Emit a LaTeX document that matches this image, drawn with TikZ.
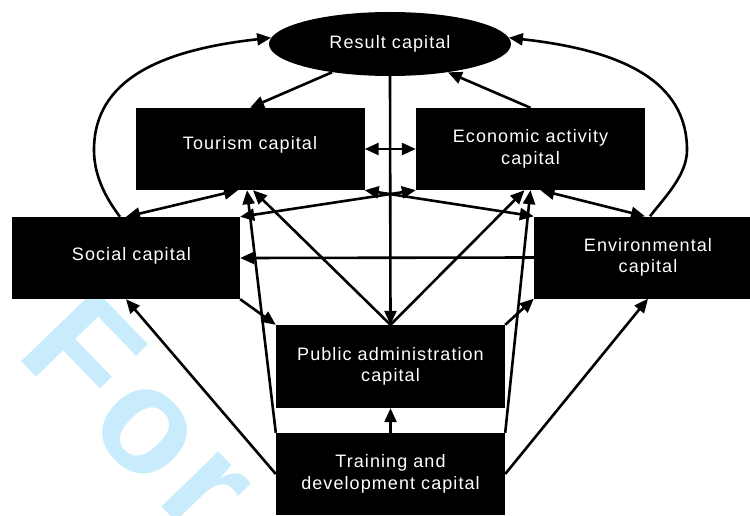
\documentclass[tikz,border=0pt]{standalone}
\usepackage{fontspec}
\setmainfont{Liberation Sans}[LetterSpace=6]
\usetikzlibrary{arrows.meta,shapes.geometric,calc}
\definecolor{wmblue}{RGB}{200,236,252}
\begin{document}
\begin{tikzpicture}[x=1pt,y=-1pt,
  lbl/.style={text=white, font=\fontsize{18}{21.5}\selectfont, align=center},
  box/.style={lbl, rectangle, fill=black, minimum width=229pt, minimum height=82pt, inner sep=0pt},
  tipA/.tip={Triangle[length=14pt,width=12pt]},
  arr/.style={line width=2.6pt, -tipA},
  barr/.style={line width=2.6pt, tipA-tipA}]
\useasboundingbox (0,0) rectangle (750,516);
\node[text=wmblue, font=\fontsize{150}{150}\bfseries, rotate=-46, anchor=base west] (wm) at (12,352) {For};
\node[lbl, ellipse, fill=black, minimum width=242pt, minimum height=64pt, inner sep=0pt] (res) at (390,44) {Result capital};
\node[box, text height=13pt, text depth=12pt] (tour) at (250,149) {Tourism capital};
\node[box] (econ) at (530.5,149) {Economic activity\\capital};
\node[box, minimum width=228pt, text height=13pt, text depth=9pt] (soc) at (126,258) {\hspace*{11pt}Social capital};
\node[box, minimum width=228pt] (env) at (648,257.5) {Environmental\\capital};
\node[box, minimum height=83pt] (pub) at (390.5,366.5) {Public administration\\capital};
\node[box] (train) at (390.5,474) {Training and\\development capital};
\draw[arr] (res.206) -- (tour.north);
\draw[arr] (econ.north) -- (res.334);
\draw[arr] (res.south) -- (pub.north);
\draw[barr] (tour.east) -- (econ.west);
\draw[arr] ([xshift=-6pt]soc.north) .. controls (105,197) and (94,175) .. (94,150) .. controls (94,80) and (160,50) .. (res.177);
\draw[arr] ([xshift=2pt]env.north) .. controls (665,197) and (687,175) .. (687,150) .. controls (687,80) and (620,50) .. (res.3);
\draw[barr] (soc.north) -- ([xshift=-12pt]tour.south);
\draw[barr] ([xshift=10pt]econ.south) -- ([xshift=-3pt]env.north);
\draw[barr] (soc.north east) -- (econ.south west);
\draw[barr] (tour.south east) -- (env.north west);
\draw[arr] (pub.north) -- ([xshift=3pt]tour.south);
\draw[arr] (pub.north) -- ([xshift=-6pt]econ.south);
\draw[arr] (train.north west) -- ([xshift=-3pt]tour.south);
\draw[arr] (train.north east) -- (econ.south);
\draw[arr] (env.west) -- (soc.east);
\draw[arr] (soc.south east) -- (pub.north west);
\draw[arr] (pub.north east) -- (env.south west);
\draw[arr] (train.west) -- (soc.south);
\draw[arr] (train.east) -- (env.south);
\draw[arr] (train.north) -- (pub.south);
\end{tikzpicture}
\end{document}
